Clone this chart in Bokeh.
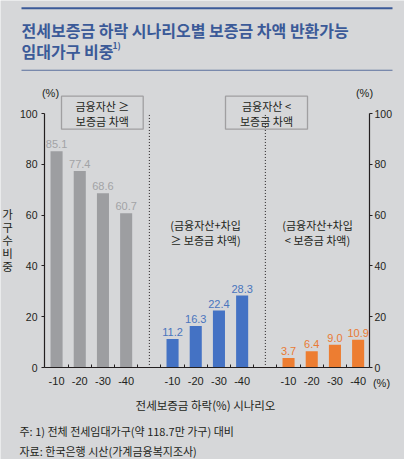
from bokeh.plotting import figure
from bokeh.models import Label, BoxAnnotation, LinearAxis, FixedTicker, Range1d, ColumnDataSource
from bokeh.core.properties import value
from bokeh.embed import file_html
from bokeh.resources import INLINE

# ---- data ----
scenarios = ["-10", "-20", "-30", "-40"]
gray_vals = [85.1, 77.4, 68.6, 60.7]
blue_vals = [11.2, 16.3, 22.4, 28.3]
orange_vals = [3.7, 6.4, 9.0, 10.9]
y_ticks = [0, 20, 40, 60, 80, 100]
title_lines = ["전세보증금 하락 시나리오별 보증금 차액 반환가능", "임대가구 비중"]
box_texts = [["금융자산 ≥", "보증금 차액"], ["금융자산 <", "보증금 차액"]]
group_texts = [["(금융자산+차입", "≥ 보증금 차액)"], ["(금융자산+차입", "< 보증금 차액)"]]
x_title = "전세보증금 하락(%) 시나리오"
y_title = "가구수비중"
notes = ["주: 1) 전체 전세임대가구(약 118.7만 가구) 대비", "자료: 한국은행 시산(가계금융복지조사)"]

BG = "#d6d7d9"
FONT = "Noto Sans CJK KR"
NUMFONT = "Liberation Sans"
DARK = "#231f20"
GRAY, GRAY_T = "#9d9ea1", "#a2a3a6"
BLUE, BLUE_T = "#4472c4", "#4a75bd"
ORANGE, ORANGE_T = "#ed7d31", "#e97a34"
TITLE_C = "#3b5a98"

W, H = 404, 459
# pixel geometry of the chart area inside the canvas
FL, FR, FT, FB = 44, 369, 113, 367
XR = (-0.52, 13.49)
XS = (FR - FL) / (XR[1] - XR[0])
YS = (FB - FT) / 100.0
def px(fx):
    return (fx - FL) / XS + XR[0]
def py(fy):
    return (FB - fy) / YS

p = figure(width=W, height=H, x_range=Range1d(px(0), px(W)), y_range=Range1d(py(H), py(0)),
           output_backend="svg", toolbar_location=None, x_axis_location=None, y_axis_location=None,
           min_border=0, background_fill_color=BG, border_fill_color=BG, outline_line_color=None)
p.grid.visible = False

# bars
series = [(gray_vals, GRAY, GRAY_T), (blue_vals, BLUE, BLUE_T), (orange_vals, ORANGE, ORANGE_T)]
for g, (vals, col, tcol) in enumerate(series):
    xs = [g * 5 + k for k in range(len(vals))]
    src = ColumnDataSource(dict(x=xs, top=vals, lab=[f"{v:.1f}" for v in vals]))
    p.vbar(x="x", top="top", bottom=0, width=0.52, source=src, fill_color=col, line_color=None)
    p.text(x="x", y="top", text="lab", source=src, text_align="center", text_baseline="bottom",
           y_offset=-3, text_font_size="11px", text_color=tcol, text_font=value(NUMFONT))

# separators
p.segment(x0=[4, 9], y0=[1, 1], x1=[4, 9], y1=[100, 100], line_color=DARK, line_width=1, line_dash="1 2")

# axes
ya = LinearAxis(fixed_location=XR[0], bounds=(0, 100), ticker=FixedTicker(ticks=y_ticks))
ra = LinearAxis(fixed_location=XR[1], bounds=(0, 100), ticker=FixedTicker(ticks=y_ticks))
p.add_layout(ya, "left")
p.add_layout(ra, "right")
for ax, so in ((ya, 4), (ra, 2)):
    ax.axis_line_color = DARK
    ax.axis_line_width = 1.2
    ax.major_tick_line_color = DARK
    ax.major_tick_in = 0
    ax.major_tick_out = 3
    ax.minor_tick_line_color = None
    ax.major_label_text_font = NUMFONT
    ax.major_label_text_font_size = "10.5px"
    ax.major_label_text_color = DARK
    ax.major_label_standoff = so

major = [g * 5 + k for g in range(3) for k in range(len(scenarios))]
minor = [i + 0.5 for i in range(13)]
xa = LinearAxis(fixed_location=0, bounds=XR, ticker=FixedTicker(ticks=major, minor_ticks=minor))
p.add_layout(xa, "below")
xa.major_label_overrides = {g * 5 + k: scenarios[k] for g in range(3) for k in range(len(scenarios))}
xa.axis_line_color = DARK
xa.axis_line_width = 1.2
xa.major_tick_line_color = None
xa.major_tick_in = 0
xa.major_tick_out = 0
xa.minor_tick_line_color = DARK
xa.minor_tick_in = 3
xa.minor_tick_out = 0
xa.major_label_text_font = NUMFONT
xa.major_label_text_font_size = "11px"
xa.major_label_text_color = DARK
xa.major_label_standoff = 9

def lab(text, fx, fy, size, color=DARK, align="center", baseline="middle", style="normal", font=FONT):
    p.add_layout(Label(x=px(fx), y=py(fy), text=text, text_font_size=f"{size}px", text_color=color,
                       text_align=align, text_baseline=baseline, text_font_style=style, text_font=font))

# top rules
p.add_layout(BoxAnnotation(left=px(21), right=px(392), top=py(6.7), bottom=py(8.7),
                           fill_color=TITLE_C, fill_alpha=1, line_color=None))
p.add_layout(BoxAnnotation(left=px(21), right=px(392), top=py(69.3), bottom=py(70.3),
                           fill_color="#5a6f9c", fill_alpha=1, line_color=None))

# title
lab(title_lines[0], 21, 29, 16, TITLE_C, align="left", style="bold")
lab(title_lines[1], 21, 50, 16, TITLE_C, align="left", style="bold")
lab("1)", 112, 44, 8.5, TITLE_C, align="left", style="bold")

# (%) unit labels
lab("(%)", 50, 92, 11, DARK, font=NUMFONT)
lab("(%)", 364, 92, 11, DARK, font=NUMFONT)
lab("(%)", 381, 382, 11, DARK, font=NUMFONT)

# boxes
for (l, r, cx), lines in zip(((61, 142.7, 101.9), (225, 307, 266)), box_texts):
    p.add_layout(BoxAnnotation(left=px(l), right=px(r), top=py(95.7), bottom=py(128.7),
                               fill_alpha=0, line_color=DARK, line_width=1.3))
    lab(lines[0], cx, 105, 11, DARK)
    lab(lines[1], cx, 120, 11, DARK)

# group texts
for cx, lines in zip((205, 317), group_texts):
    lab(lines[0], cx, 224, 11, DARK)
    lab(lines[1], cx, 239, 11, DARK)

# y title, stacked
for i, ch in enumerate(y_title):
    lab(ch, 7, 213 + i * 13, 11.5, DARK)

# x title
lab(x_title, 205, 404, 11.5, DARK)

# notes
lab(notes[0], 19, 430, 11, DARK, align="left")
lab(notes[1], 19, 450, 11, DARK, align="left")

open("out.html", "w").write(file_html(p, INLINE))
